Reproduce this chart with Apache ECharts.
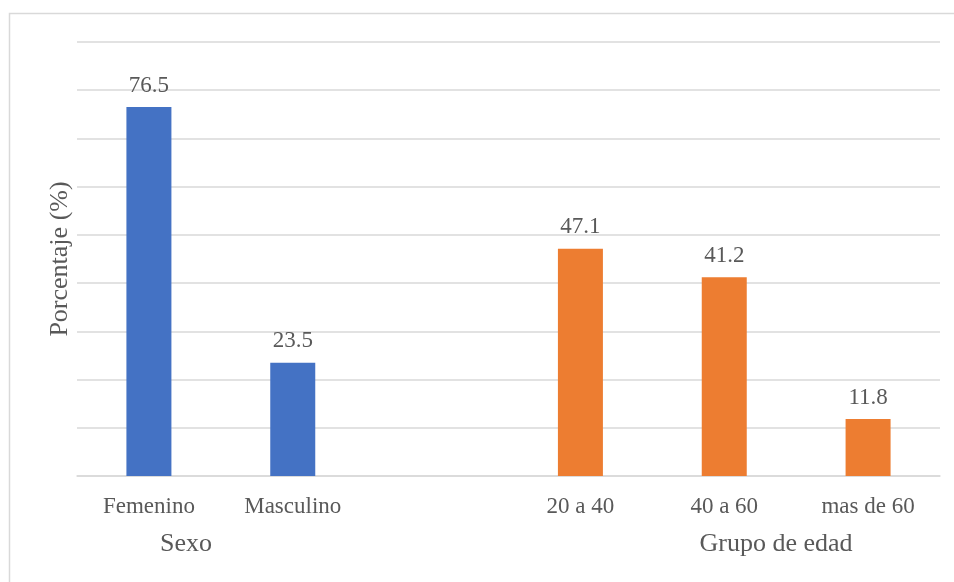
<!DOCTYPE html>
<html>
<head>
<meta charset="utf-8">
<script src="https://cdn.jsdelivr.net/npm/echarts@6/dist/echarts.min.js"></script>
<style>
  html, body { margin: 0; padding: 0; background: #ffffff; }
  #chart { width: 954px; height: 582px; }
</style>
</head>
<body>
<div id="chart"></div>
<script>
// Category slots: two sex groups, one blank spacer, three age groups
const categories = ['Femenino', 'Masculino', '', '20 a 40', '40 a 60', 'mas de 60'];
const sexoValues = [76.5, 23.5, null, null, null, null];
const edadValues = [null, null, null, 47.1, 41.2, 11.8];
const groupLabels = ['Sexo', 'Grupo de edad'];
const yTitle = 'Porcentaje (%)';

const FONT = '"Liberation Serif", "Times New Roman", serif';
const TEXT = '#595959';
const GRID = '#d9d9d9';

const chart = echarts.init(document.getElementById('chart'), null, { renderer: 'canvas' });

const valueLabel = {
  show: true,
  position: 'top',
  distance: 10,
  color: TEXT,
  fontFamily: FONT,
  fontSize: 23,
  formatter: p => p.value == null ? '' : p.value.toFixed(1)
};

chart.setOption({
  animation: false,
  backgroundColor: '#ffffff',
  grid: { left: 77, right: 14, top: 42, bottom: 106, containLabel: false },
  xAxis: {
    type: 'category',
    data: categories,
    axisLine: { show: true, lineStyle: { color: GRID, width: 1.5 } },
    axisTick: { show: false },
    axisLabel: { color: TEXT, fontFamily: FONT, fontSize: 23, margin: 19 }
  },
  yAxis: {
    type: 'value',
    min: 0,
    max: 90,
    interval: 10,
    name: yTitle,
    nameLocation: 'middle',
    nameGap: 4,
    nameRotate: 90,
    nameTextStyle: { color: TEXT, fontFamily: FONT, fontSize: 26 },
    axisLine: { show: false },
    axisTick: { show: false },
    axisLabel: { show: false },
    splitLine: { show: true, lineStyle: { color: GRID, width: 1.5 } }
  },
  series: [
    {
      name: groupLabels[0],
      type: 'bar',
      stack: 'all',
      barWidth: 45,
      data: sexoValues,
      itemStyle: { color: '#4472c4' },
      label: valueLabel
    },
    {
      name: groupLabels[1],
      type: 'bar',
      stack: 'all',
      barWidth: 45,
      data: edadValues,
      itemStyle: { color: '#ed7d31' },
      label: valueLabel
    }
  ],
  graphic: [
    {
      type: 'rect',
      shape: { x: 9.5, y: 13.5, width: 1000, height: 1000 },
      style: { fill: 'none', stroke: GRID, lineWidth: 1.5 },
      silent: true
    },
    {
      type: 'text',
      x: 186, y: 544,
      style: { text: groupLabels[0], fill: TEXT, font: '26px ' + FONT, textAlign: 'center', textVerticalAlign: 'middle' }
    },
    {
      type: 'text',
      x: 776, y: 544,
      style: { text: groupLabels[1], fill: TEXT, font: '26px ' + FONT, textAlign: 'center', textVerticalAlign: 'middle' }
    }
  ]
});
</script>
</body>
</html>
